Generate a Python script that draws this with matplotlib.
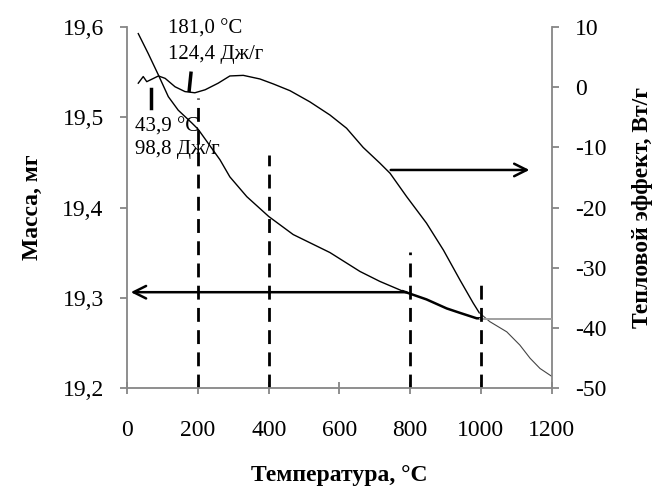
import matplotlib
matplotlib.use("Agg")
import matplotlib.pyplot as plt

# ---- data ----
mass_T = [31, 59, 88, 116, 144, 182, 200, 262, 290, 338, 400, 469, 573, 658, 714, 780,
          846, 903, 941, 988, 997]
mass_v = [19.593, 19.571, 19.547, 19.523, 19.508, 19.494, 19.487, 19.453, 19.434, 19.412,
          19.390, 19.370, 19.350, 19.329, 19.318, 19.307, 19.298, 19.288, 19.283, 19.277, 19.277]
mass_tail_T = [997, 1200]
mass_tail_v = [19.276, 19.276]

heat_T = [31, 45, 55, 69, 88, 107, 135, 163, 191, 220, 257, 290, 328, 375, 413, 460, 516,
          573, 620, 667, 714, 743, 790, 846, 894, 941, 978, 995]
heat_v = [0.7, 1.8, 0.95, 1.35, 1.9, 1.5, 0.1, -0.7, -0.9, -0.4, 0.7, 1.9, 2.0, 1.4, 0.57,
          -0.55, -2.4, -4.6, -6.8, -10.0, -12.6, -14.3, -18.2, -22.6, -27.1, -32.1, -35.9, -37.5]
heat_tail_T = [995, 1025, 1073, 1110, 1139, 1167, 1200]
heat_tail_v = [-37.5, -39.0, -40.7, -42.9, -45.1, -46.8, -48.1]

dash_T = [200, 400, 800, 1000]
dash_top = [19.521, 19.458, 19.351, 19.318]

x_ticks = [0, 200, 400, 600, 800, 1000, 1200]
left_ticks = [19.2, 19.3, 19.4, 19.5, 19.6]
left_labels = ["19,2", "19,3", "19,4", "19,5", "19,6"]
right_ticks = [-50, -40, -30, -20, -10, 0, 10]
right_labels = ["-50", "-40", "-30", "-20", "-10", "0", "10"]

plt.rcParams['font.family'] = ['Liberation Serif', 'DejaVu Serif']
GRAY = '#868686'

fig = plt.figure(figsize=(6.61, 4.93), dpi=100)
ax = fig.add_axes([0.1926, 0.2136, 0.8346 - 0.1926, 0.9446 - 0.2136])
ax2 = ax.twinx()
ax.set_zorder(2)
ax.patch.set_visible(False)

# mass curve
ax.plot(mass_T[:16], mass_v[:16], color='black', lw=1.0)
ax.plot(mass_T[15:], mass_v[15:], color='black', lw=1.8)
ax.plot(mass_tail_T, mass_tail_v, color='#a0a0a0', lw=1.4)

# heat curve
ax2.plot(heat_T, heat_v, color='black', lw=1.0)
ax2.plot(heat_tail_T, heat_tail_v, color='#444444', lw=0.8)

# dashed lines
for t, top in zip(dash_T, dash_top):
    ax.plot([t, t], [19.2, top], color='black', lw=2.0, ls=(0, (5, 3)))

# short markers
ax.plot([67, 67], [19.510, 19.532], color='black', lw=2.5)
ax.plot([175, 180], [19.530, 19.549], color='black', lw=2.5)

# arrows
ax.annotate('', xy=(2, 19.306), xytext=(797, 19.306),
            arrowprops=dict(arrowstyle='->,head_length=0.9,head_width=0.45', lw=1.8, color='black'))
ax2.annotate('', xy=(1145, -13.75), xytext=(737, -13.75),
             arrowprops=dict(arrowstyle='->,head_length=0.9,head_width=0.45', lw=1.8, color='black'))

# annotations
ax.text(115, 19.598, "181,0 °C", fontsize=15, va='center', ha='left')
ax.text(115, 19.570, "124,4 Дж/г", fontsize=15, va='center', ha='left')
ax.text(22, 19.489, "43,9 °C", fontsize=15, va='center', ha='left')
ax.text(22, 19.464, "98,8 Дж/г", fontsize=15, va='center', ha='left')

# axes setup
ax.set_xlim(0, 1200)
ax.set_ylim(19.2, 19.6)
ax2.set_ylim(-50, 10)
ax.set_xticks(x_ticks)
ax.set_xticklabels([str(v) for v in x_ticks])
ax.set_yticks(left_ticks)
ax.set_yticklabels(left_labels)
ax2.set_yticks(right_ticks)
ax2.set_yticklabels(right_labels)

for a in (ax, ax2):
    a.spines['top'].set_visible(False)
    for s in ('left', 'right', 'bottom'):
        a.spines[s].set_color(GRAY)
        a.spines[s].set_linewidth(1.3)
ax.spines['right'].set_visible(False)
ax2.spines['left'].set_visible(False)
ax2.spines['bottom'].set_visible(False)

ax.tick_params(axis='x', direction='inout', length=9, width=1.3, color=GRAY, labelsize=17, pad=19)
ax.tick_params(axis='y', direction='out', length=5, width=1.3, color=GRAY, labelsize=17, pad=12)
ax2.tick_params(axis='y', direction='out', length=5, width=1.3, color=GRAY, labelsize=17, pad=12)

ax.set_xlabel("Температура, °C", fontsize=17, fontweight='bold', labelpad=17)
ax.set_ylabel("Масса, мг", fontsize=17, fontweight='bold', labelpad=14)
ax2.set_ylabel("Тепловой эффект, Вт/г", fontsize=17, fontweight='bold', labelpad=18)

fig.savefig("out.png", dpi=100)
